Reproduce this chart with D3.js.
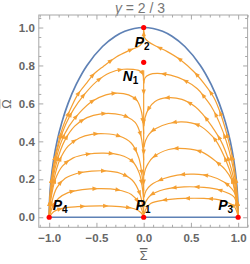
<!DOCTYPE html>
<html><head><meta charset="utf-8">
<script src="https://cdn.jsdelivr.net/npm/d3@7"></script>
<style>body{margin:0;background:#fff}svg{display:block}</style>
</head><body>
<script>
// ---------- data (Σ̄, Ω̄) ----------
const titleParts = ["γ", " = 2 / 3"];
const xLabel = "Σ";
const yLabel = "Ω";
const xTicks = [-1, -0.5, 0, 0.5, 1];
const yTicks = [0, 0.2, 0.4, 0.6, 0.8, 1.0];
const xMinor = [-1.1,-0.9,-0.8,-0.7,-0.6,-0.4,-0.3,-0.2,-0.1,0.1,0.2,0.3,0.4,0.6,0.7,0.8,0.9,1.1];
const yMinor = [0.05,0.1,0.15,0.25,0.3,0.35,0.45,0.5,0.55,0.65,0.7,0.75,0.85,0.9,0.95,1.05];

const boundaryArc = [[-1,0],[-0.995,0.1],[-0.98,0.2],[-0.954,0.3],[-0.917,0.4],[-0.866,0.5],[-0.8,0.6],
  [-0.714,0.7],[-0.6,0.8],[-0.436,0.9],[-0.3,0.954],[-0.2,0.98],[-0.1,0.995],[0,1],[0.1,0.995],[0.2,0.98],
  [0.3,0.954],[0.436,0.9],[0.6,0.8],[0.714,0.7],[0.8,0.6],[0.866,0.5],[0.917,0.4],[0.954,0.3],[0.98,0.2],[0.995,0.1],[1,0]];
const boundaryBase = [[-1,0],[1,0]];

const leftCurves = [
  [[-1,0],[-0.95,0.03],[-0.85,0.048],[-0.7,0.056],[-0.45,0.06],[-0.25,0.056],[-0.1,0.045],[-0.03,0.025],[0,0.002]],
  [[-1,0],[-0.96,0.06],[-0.9,0.1],[-0.8,0.13],[-0.65,0.146],[-0.45,0.151],[-0.28,0.145],[-0.13,0.12],[-0.05,0.075],[-0.01,0.025],[0,0.005]],
  [[-1,0],[-0.972,0.08],[-0.92,0.155],[-0.83,0.205],[-0.7,0.232],[-0.55,0.243],[-0.4,0.244],[-0.25,0.232],[-0.12,0.195],[-0.045,0.13],[-0.01,0.06],[0,0.02]],
  [[-1,0],[-0.98,0.1],[-0.935,0.2],[-0.86,0.27],[-0.745,0.313],[-0.6,0.332],[-0.42,0.338],[-0.25,0.328],[-0.12,0.295],[-0.045,0.23],[-0.01,0.14],[0,0.08]],
  [[-1,0],[-0.985,0.1],[-0.95,0.2],[-0.89,0.3],[-0.8,0.375],[-0.68,0.418],[-0.55,0.437],[-0.41,0.44],[-0.26,0.428],[-0.13,0.39],[-0.05,0.31],[-0.012,0.2],[0,0.14]],
  [[-1,0],[-0.988,0.1],[-0.962,0.2],[-0.915,0.3],[-0.84,0.4],[-0.73,0.48],[-0.6,0.525],[-0.45,0.545],[-0.3,0.545],[-0.18,0.53],[-0.09,0.5],[-0.035,0.44],[-0.008,0.36],[0,0.3]],
  [[-1,0],[-0.99,0.1],[-0.968,0.2],[-0.93,0.3],[-0.87,0.4],[-0.79,0.48],[-0.68,0.55],[-0.55,0.61],[-0.4,0.645],[-0.28,0.654],[-0.16,0.645],[-0.07,0.615],[-0.025,0.56],[-0.006,0.49],[0,0.44]],
  [[-1,0],[-0.992,0.1],[-0.972,0.2],[-0.94,0.3],[-0.89,0.4],[-0.825,0.49],[-0.74,0.57],[-0.64,0.64],[-0.5,0.715],[-0.357,0.762],[-0.216,0.78],[-0.11,0.779],[-0.035,0.77],[-0.01,0.755],[-0.002,0.72]],
  [[-1,0],[-0.993,0.1],[-0.975,0.2],[-0.945,0.3],[-0.9,0.4],[-0.845,0.49],[-0.775,0.57],[-0.7,0.645],[-0.6,0.71],[-0.533,0.752],[-0.427,0.795],[-0.286,0.846],[-0.145,0.881],[-0.04,0.905],[-0.006,0.93],[0,1]]
];
const rightCurves = [
  [[1,0],[0.993,0.1],[0.975,0.2],[0.945,0.3],[0.9,0.4],[0.85,0.49],[0.8,0.565],[0.744,0.63],[0.638,0.706],[0.532,0.767],[0.391,0.829],[0.25,0.873],[0.144,0.899],[0.05,0.925],[0.006,0.95],[0,1]],
  [[1,0],[0.99,0.1],[0.968,0.2],[0.93,0.3],[0.875,0.4],[0.8,0.5],[0.72,0.58],[0.64,0.635],[0.568,0.677],[0.426,0.723],[0.285,0.749],[0.144,0.758],[0.06,0.752],[0.015,0.735],[0.002,0.705]],
  [[1,0],[0.985,0.1],[0.955,0.2],[0.9,0.3],[0.82,0.4],[0.72,0.48],[0.63,0.54],[0.546,0.582],[0.405,0.621],[0.25,0.63],[0.12,0.61],[0.05,0.57],[0.015,0.525],[0.002,0.48]],
  [[1,0],[0.98,0.1],[0.94,0.2],[0.87,0.3],[0.77,0.4],[0.68,0.45],[0.582,0.485],[0.405,0.503],[0.264,0.494],[0.13,0.468],[0.06,0.44],[0.02,0.405],[0.003,0.37]],
  [[1,0],[0.993,0.05],[0.975,0.11],[0.934,0.195],[0.865,0.25],[0.793,0.283],[0.62,0.343],[0.44,0.362],[0.264,0.357],[0.1,0.316],[0.05,0.285],[0.02,0.255],[0.003,0.22]],
  [[1,0],[0.99,0.06],[0.956,0.134],[0.85,0.186],[0.709,0.216],[0.532,0.227],[0.356,0.222],[0.215,0.204],[0.074,0.169],[0.025,0.14],[0.004,0.105]],
  [[1,0],[0.988,0.05],[0.956,0.107],[0.815,0.142],[0.638,0.157],[0.427,0.16],[0.215,0.146],[0.074,0.116],[0.025,0.085],[0.004,0.055]],
  [[1,0],[0.985,0.03],[0.956,0.057],[0.815,0.09],[0.638,0.099],[0.427,0.099],[0.215,0.09],[0.074,0.072],[0.025,0.045],[0.004,0.015]]
];
const axisFlow = [[0,0.775],[0,0]];

const fixedPoints = [
  {name:"P", sub:"1", s:0,  o:0},
  {name:"P", sub:"2", s:0,  o:1},
  {name:"P", sub:"3", s:1,  o:0},
  {name:"P", sub:"4", s:-1, o:0},
  {name:"N", sub:"1", s:0,  o:0.8165}
];
// label offsets (px) per point, same order
const labelOffsets = [[-8,-7],[-9,19.5],[-20,-7],[3.5,-7],[-21,18.5]];

// ---------- layout ----------
const W = 250, H = 264;
const X0 = 38.8, X1 = 247.6, Y0 = 15, Y1 = 227.3;
const ORANGE = "#F5A033", BLUE = "#5E81B5", FRAME = "#a8a8a8", TXT = "#666";

const svg = d3.select("body").append("svg").attr("width", W).attr("height", H)
  .style("font-family", "'Liberation Sans', Arial, sans-serif");

const x = d3.scaleLinear().domain([-1.11, 1.1]).range([X0, X1]);
const y = d3.scaleLinear().domain([-0.053, 1.066]).range([Y1, Y0]);

// title
svg.append("text").attr("x", 140).attr("y", 13).attr("text-anchor", "middle")
  .attr("font-size", 14).attr("fill", "#777")
  .call(t => { t.append("tspan").attr("font-style", "italic").text(titleParts[0]);
               t.append("tspan").text(titleParts[1]); });

// frame
svg.append("rect").attr("x", X0).attr("y", Y0).attr("width", X1 - X0).attr("height", Y1 - Y0)
  .attr("fill", "none").attr("stroke", FRAME).attr("stroke-width", 1);

function styleAxis(g) {
  g.select(".domain").remove();
  g.selectAll(".tick line").attr("stroke", FRAME);
  g.selectAll(".tick text").attr("fill", TXT).attr("font-size", 11.5).attr("font-weight", "bold")
    .attr("font-family", "'Liberation Sans', Arial, sans-serif");
}
const fmt = d3.format(".1f");
svg.append("g").attr("transform", `translate(${X0},0)`)
  .call(d3.axisLeft(y).tickValues(yTicks).tickSize(-4.5).tickPadding(4).tickFormat(fmt)).call(styleAxis);
svg.append("g").attr("transform", `translate(${X0},0)`)
  .call(d3.axisLeft(y).tickValues(yMinor).tickSize(-2.5).tickFormat("")).call(styleAxis);
svg.append("g").attr("transform", `translate(${X1},0)`)
  .call(d3.axisRight(y).tickValues(yTicks).tickSize(-4.5).tickFormat("")).call(styleAxis);
svg.append("g").attr("transform", `translate(${X1},0)`)
  .call(d3.axisRight(y).tickValues(yMinor).tickSize(-2.5).tickFormat("")).call(styleAxis);
svg.append("g").attr("transform", `translate(0,${Y1})`)
  .call(d3.axisBottom(x).tickValues(xTicks).tickSize(-4.5).tickPadding(7).tickFormat(fmt)).call(styleAxis);
svg.append("g").attr("transform", `translate(0,${Y1})`)
  .call(d3.axisBottom(x).tickValues(xMinor).tickSize(-2.5).tickFormat("")).call(styleAxis);
svg.append("g").attr("transform", `translate(0,${Y0})`)
  .call(d3.axisTop(x).tickValues(xTicks).tickSize(-4.5).tickFormat("")).call(styleAxis);
svg.append("g").attr("transform", `translate(0,${Y0})`)
  .call(d3.axisTop(x).tickValues(xMinor).tickSize(-2.5).tickFormat("")).call(styleAxis);

// axis labels
svg.append("text").attr("x", x(0)).attr("y", 260).attr("text-anchor", "middle")
  .attr("font-size", 12.5).attr("fill", TXT).style("text-decoration", "overline").text(xLabel);
svg.append("text").attr("transform", `translate(11,104) rotate(-90)`).attr("text-anchor", "middle")
  .attr("font-size", 12.5).attr("fill", TXT).style("text-decoration", "overline").text(yLabel);

// plot
const plot = svg.append("g");
const line = d3.line().x(d => x(d[0])).y(d => y(d[1])).curve(d3.curveCatmullRom.alpha(0.5));
const straight = d3.line().x(d => x(d[0])).y(d => y(d[1]));

plot.append("path").attr("d", line(boundaryArc)).attr("fill", "none").attr("stroke", BLUE).attr("stroke-width", 1.7);
plot.append("path").attr("d", straight(boundaryBase)).attr("fill", "none").attr("stroke", BLUE).attr("stroke-width", 1.7);

const arrows = plot.append("g");
function drawFlow(pts, gen, spacing, start) {
  const p = plot.append("path").attr("d", gen(pts)).attr("fill", "none")
    .attr("stroke", ORANGE).attr("stroke-width", 1.2);
  const node = p.node(), L = node.getTotalLength();
  for (let d = start; d < L - 6; d += spacing) {
    const a = node.getPointAtLength(Math.max(0, d - 1.5)), b = node.getPointAtLength(Math.min(L, d + 1.5));
    const ang = Math.atan2(b.y - a.y, b.x - a.x) * 180 / Math.PI;
    const c = node.getPointAtLength(d);
    arrows.append("path").attr("d", "M3,0 L-2.6,-2.2 L-2.6,2.2 Z").attr("fill", ORANGE)
      .attr("transform", `translate(${c.x},${c.y}) rotate(${ang})`);
  }
}
leftCurves.forEach(c => drawFlow(c, line, 23, 14));
rightCurves.forEach(c => drawFlow(c, line, 23, 14));
drawFlow(axisFlow, straight, 30, 22);

// fixed points
plot.selectAll("circle.fp").data(fixedPoints).join("circle").attr("class", "fp")
  .attr("cx", d => x(d.s)).attr("cy", d => y(d.o)).attr("r", 2.6).attr("fill", "#ff0000");

// labels
fixedPoints.forEach((d, i) => {
  const t = svg.append("text").attr("x", x(d.s) + labelOffsets[i][0]).attr("y", y(d.o) + labelOffsets[i][1])
    .attr("font-size", 14).attr("font-weight", "bold").attr("font-style", "italic").attr("fill", "#000");
  t.append("tspan").text(d.name);
  t.append("tspan").attr("font-size", 10).attr("font-style", "normal").attr("dy", 3).text(d.sub);
});
</script>
</body></html>
